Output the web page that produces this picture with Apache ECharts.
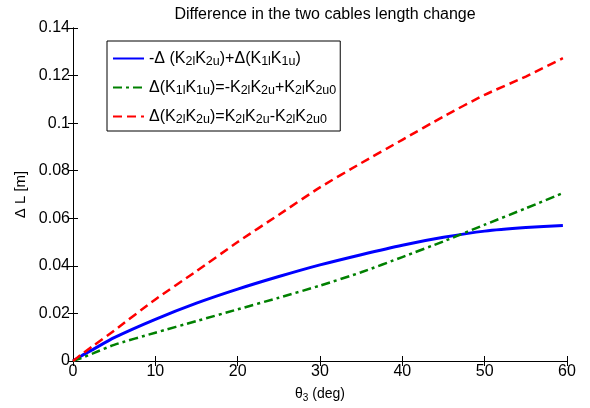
<!DOCTYPE html>
<html>
<head>
<meta charset="utf-8">
<script src="https://cdn.jsdelivr.net/npm/echarts@6/dist/echarts.min.js"></script>
<style>
  html, body { margin: 0; padding: 0; background: #fff; }
  #chart { width: 590px; height: 408px; }
</style>
</head>
<body>
<div id="chart"></div>
<script>
const theta = [0, 1, 2.5, 5, 10, 15, 20, 25, 30, 35, 40, 45, 50, 55, 59.5]

// -Δ(K2lK2u)+Δ(K1lK1u)
const blueVals  = [0, 0.0021, 0.0050, 0.0098, 0.0175, 0.0243, 0.0302, 0.0355, 0.0404, 0.0447, 0.0487, 0.0520, 0.0546, 0.0561, 0.0570]
// Δ(K1lK1u)
const greenVals = [0, 0.0012, 0.0033, 0.0068, 0.0119, 0.0168, 0.0217, 0.0266, 0.0317, 0.0373, 0.0437, 0.0503, 0.0573, 0.0642, 0.0706]
// Δ(K2lK2u)
const redVals   = [0, 0.0027, 0.0065, 0.0128, 0.0259, 0.0378, 0.0500, 0.0615, 0.0730, 0.0832, 0.0930, 0.1028, 0.1119, 0.1196, 0.1273]

const seriesNames = ['blue', 'green', 'red']
const legendLabels = {
    blue: '-Δ (K{s|2l}K{s|2u})+Δ(K{s|1l}K{s|1u})',
    green: 'Δ(K{s|1l}K{s|1u})=-K{s|2l}K{s|2u}+K{s|2l}K{s|2u0}',
    red: 'Δ(K{s|2l}K{s|2u})=K{s|2l}K{s|2u}-K{s|2l}K{s|2u0}'
}

const font = 'Liberation Sans, Arial, sans-serif'

const pairs = vals => theta.map((t, i) => [t, vals[i]])

const chart = echarts.init(document.getElementById('chart'))

const option = {
    animation: false,
    backgroundColor: '#fff',
    title: {
        text: 'Difference in the two cables length change',
        left: 320,
        textAlign: 'center',
        top: 2,
        textStyle: { fontFamily: font, fontSize: 16, fontWeight: 'normal', color: '#000' }
    },
    legend: {
        data: seriesNames,
        orient: 'vertical',
        left: 107,
        top: 41,
        padding: [8, 4, 5, 5],
        itemGap: 10,
        itemWidth: 31,
        itemHeight: 14,
        itemStyle: { opacity: 0 },
        borderColor: '#000',
        borderWidth: 1,
        backgroundColor: '#fff',
        borderRadius: 0,
        formatter: name => legendLabels[name],
        textStyle: {
            fontFamily: font,
            fontSize: 16,
            color: '#000',
            lineHeight: 19,
            rich: {
                s: { fontFamily: font, fontSize: 12.5, lineHeight: 12, verticalAlign: 'bottom', color: '#000' }
            }
        }
    },
    grid: { left: 73, right: 23, top: 28, bottom: 46 },
    xAxis: [
        {
            type: 'value',
            min: 0, max: 60, interval: 10,
            name: 'θ{s|3} (deg)',
            nameLocation: 'middle',
            nameGap: 25,
            nameTextStyle: {
                fontFamily: font, fontSize: 14, color: '#000', lineHeight: 17,
                rich: { s: { fontFamily: font, fontSize: 10, lineHeight: 10, verticalAlign: 'bottom', color: '#000' } }
            },
            axisLine: { lineStyle: { color: '#000', width: 1 } },
            axisTick: { inside: true, length: 5, lineStyle: { color: '#000' } },
            axisLabel: { fontFamily: font, fontSize: 16, color: '#000', margin: 3 },
            splitLine: { show: false }
        },
        {
            type: 'value',
            position: 'top',
            min: 0, max: 60, interval: 10,
            axisLine: { lineStyle: { color: '#000', width: 1 } },
            axisTick: { inside: true, length: 5, lineStyle: { color: '#000' } },
            axisLabel: { show: false },
            splitLine: { show: false }
        }
    ],
    yAxis: [
        {
            type: 'value',
            min: 0, max: 0.14, interval: 0.02,
            name: 'Δ L [m]',
            nameLocation: 'middle',
            nameGap: 43,
            nameTextStyle: { fontFamily: font, fontSize: 15, color: '#000' },
            axisLine: { lineStyle: { color: '#000', width: 1 } },
            axisTick: { inside: true, length: 5, lineStyle: { color: '#000' } },
            axisLabel: { fontFamily: font, fontSize: 16, color: '#000', margin: 3 },
            splitLine: { show: false }
        },
        {
            type: 'value',
            position: 'right',
            min: 0, max: 0.14, interval: 0.02,
            axisLine: { lineStyle: { color: '#000', width: 1 } },
            axisTick: { inside: true, length: 5, lineStyle: { color: '#000' } },
            axisLabel: { show: false },
            splitLine: { show: false }
        }
    ],
    series: [
        {
            name: 'blue',
            type: 'line',
            symbol: 'none',
            smooth: 0.2,
            color: '#0000ff',
            lineStyle: { color: '#0000ff', width: 3, type: 'solid' },
            data: pairs(blueVals)
        },
        {
            name: 'green',
            type: 'line',
            symbol: 'none',
            smooth: 0.2,
            color: '#008000',
            lineStyle: { color: '#008000', width: 2.5, type: [9, 4, 3, 4] },
            data: pairs(greenVals)
        },
        {
            name: 'red',
            type: 'line',
            symbol: 'none',
            smooth: 0.2,
            color: '#ff0000',
            lineStyle: { color: '#ff0000', width: 2.5, type: [9, 5] },
            data: pairs(redVals)
        }
    ]
}

chart.setOption(option)
</script>
</body>
</html>
